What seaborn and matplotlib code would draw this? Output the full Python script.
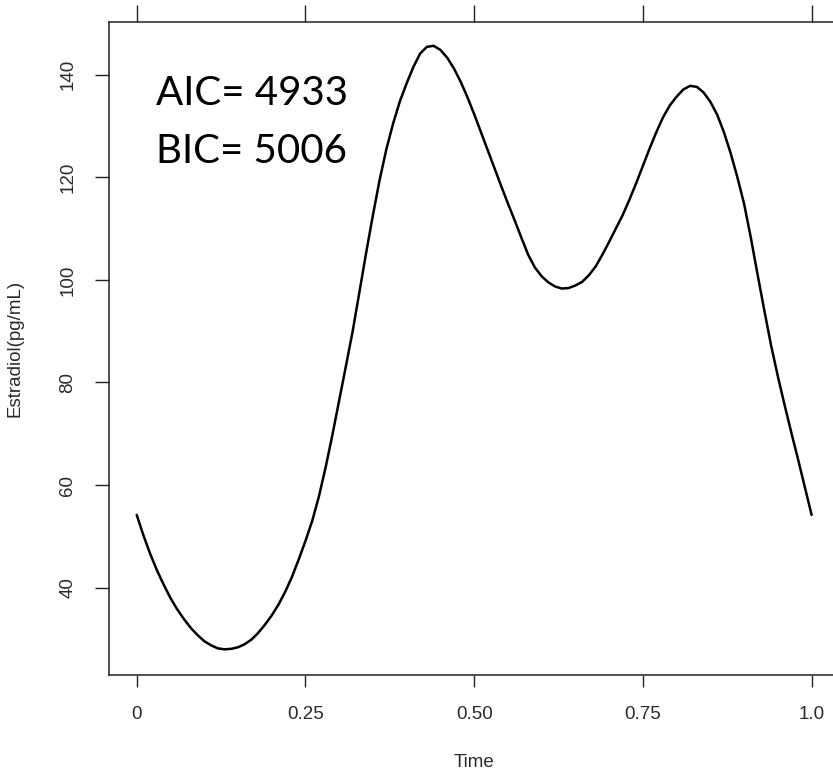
import numpy as np
import pandas as pd
import matplotlib
matplotlib.use("Agg")
import matplotlib.pyplot as plt
import seaborn as sns

# Data
time = [0.00, 0.01, 0.02, 0.03, 0.04, 0.05, 0.06, 0.07, 0.08, 0.09,
        0.10, 0.11, 0.12, 0.13, 0.14, 0.15, 0.16, 0.17, 0.18, 0.19,
        0.20, 0.21, 0.22, 0.23, 0.24, 0.25, 0.26, 0.27, 0.28, 0.29,
        0.30, 0.31, 0.32, 0.33, 0.34, 0.35, 0.36, 0.37, 0.38, 0.39,
        0.40, 0.41, 0.42, 0.43, 0.44, 0.45, 0.46, 0.47, 0.48, 0.49,
        0.50, 0.51, 0.52, 0.53, 0.54, 0.55, 0.56, 0.57, 0.58, 0.59,
        0.60, 0.61, 0.62, 0.63, 0.64, 0.65, 0.66, 0.67, 0.68, 0.69,
        0.70, 0.71, 0.72, 0.73, 0.74, 0.75, 0.76, 0.77, 0.78, 0.79,
        0.80, 0.81, 0.82, 0.83, 0.84, 0.85, 0.86, 0.87, 0.88, 0.89,
        0.90, 0.91, 0.92, 0.93, 0.94, 0.95, 0.96, 0.97, 0.98, 0.99, 1.00]
estradiol = [54.2, 50.2, 46.6, 43.4, 40.6, 38.0, 35.8, 33.9, 32.2, 30.8,
             29.6, 28.8, 28.2, 28.0, 28.1, 28.4, 29.0, 29.9, 31.2, 32.8,
             34.6, 36.7, 39.2, 42.1, 45.5, 49.1, 53.0, 57.8, 63.5, 69.8,
             76.5, 83.2, 90.0, 97.6, 105.3, 112.6, 119.5, 125.5, 130.5, 134.8,
             138.3, 141.5, 144.1, 145.4, 145.6, 144.8, 143.3, 141.2, 138.6, 135.6,
             132.3, 128.8, 125.3, 121.8, 118.3, 114.9, 111.6, 108.2, 104.9, 102.4,
             100.7, 99.5, 98.7, 98.3, 98.4, 98.9, 99.6, 100.9, 102.6, 104.9,
             107.4, 110.0, 112.6, 115.6, 118.8, 122.2, 125.6, 128.8, 131.7, 134.0,
             135.7, 137.1, 137.8, 137.6, 136.5, 134.7, 132.2, 128.8, 124.7, 120.0,
             114.8, 108.2, 101.0, 94.0, 87.2, 81.2, 75.6, 70.2, 65.0, 59.6, 54.2]
x_ticks = [0, 0.25, 0.50, 0.75, 1.0]
x_tick_labels = ["0", "0.25", "0.50", "0.75", "1.0"]
y_ticks = [40, 60, 80, 100, 120, 140]
annot_lines = ["AIC= 4933", "BIC= 5006"]

df = pd.DataFrame({"Time": time, "Estradiol": estradiol})

sns.set_style("white")
plt.rcParams["font.family"] = ["Liberation Sans", "DejaVu Sans"]

W, H = 833, 776
fig = plt.figure(figsize=(W / 100, H / 100), dpi=100)
left, right, top, bottom = 109.3, 839.0, 21.7, 675.0
ax = fig.add_axes([left / W, 1 - bottom / H, (right - left) / W, (bottom - top) / H])

sns.lineplot(data=df, x="Time", y="Estradiol", ax=ax, color="black",
             linewidth=1.8, estimator=None, sort=False)

ax.set_xlim(-0.0406, 1.0406)
ax.set_ylim(23.0, 150.3)

for s in ["left", "bottom", "top"]:
    ax.spines[s].set_visible(True)
    ax.spines[s].set_color("#222222")
    ax.spines[s].set_linewidth(1.1)
ax.spines["right"].set_visible(False)

tick_col = "#2a2a2a"
ax.set_xticks(x_ticks)
ax.set_xticklabels(x_tick_labels)
ax.set_yticks(y_ticks)
ax.set_yticklabels([str(v) for v in y_ticks], rotation=90, va="center")
ax.tick_params(axis="x", which="both", bottom=True, top=True, labeltop=False,
               direction="out", length=8.4, width=1.0, color="#222222",
               labelsize=13.5, labelcolor=tick_col, pad=14)
for t in ax.xaxis.get_major_ticks():
    t.tick2line.set_markersize(12.5)
ax.tick_params(axis="y", left=True, direction="out", length=9.8, width=1.0,
               color="#222222", labelsize=13.5, labelcolor=tick_col, pad=14)

ax.set_xlabel("Time", fontsize=13.5, color=tick_col, labelpad=22)
ax.set_ylabel("Estradiol(pg/mL)", fontsize=13.5, color=tick_col, labelpad=26)

for i, line in enumerate(annot_lines):
    fig.text(156 / W, 1 - (105 + i * 58.3) / H, line, fontsize=29,
             family=["Lato", "DejaVu Sans"], color="black", ha="left", va="baseline")

fig.savefig("out.png", dpi=100)
